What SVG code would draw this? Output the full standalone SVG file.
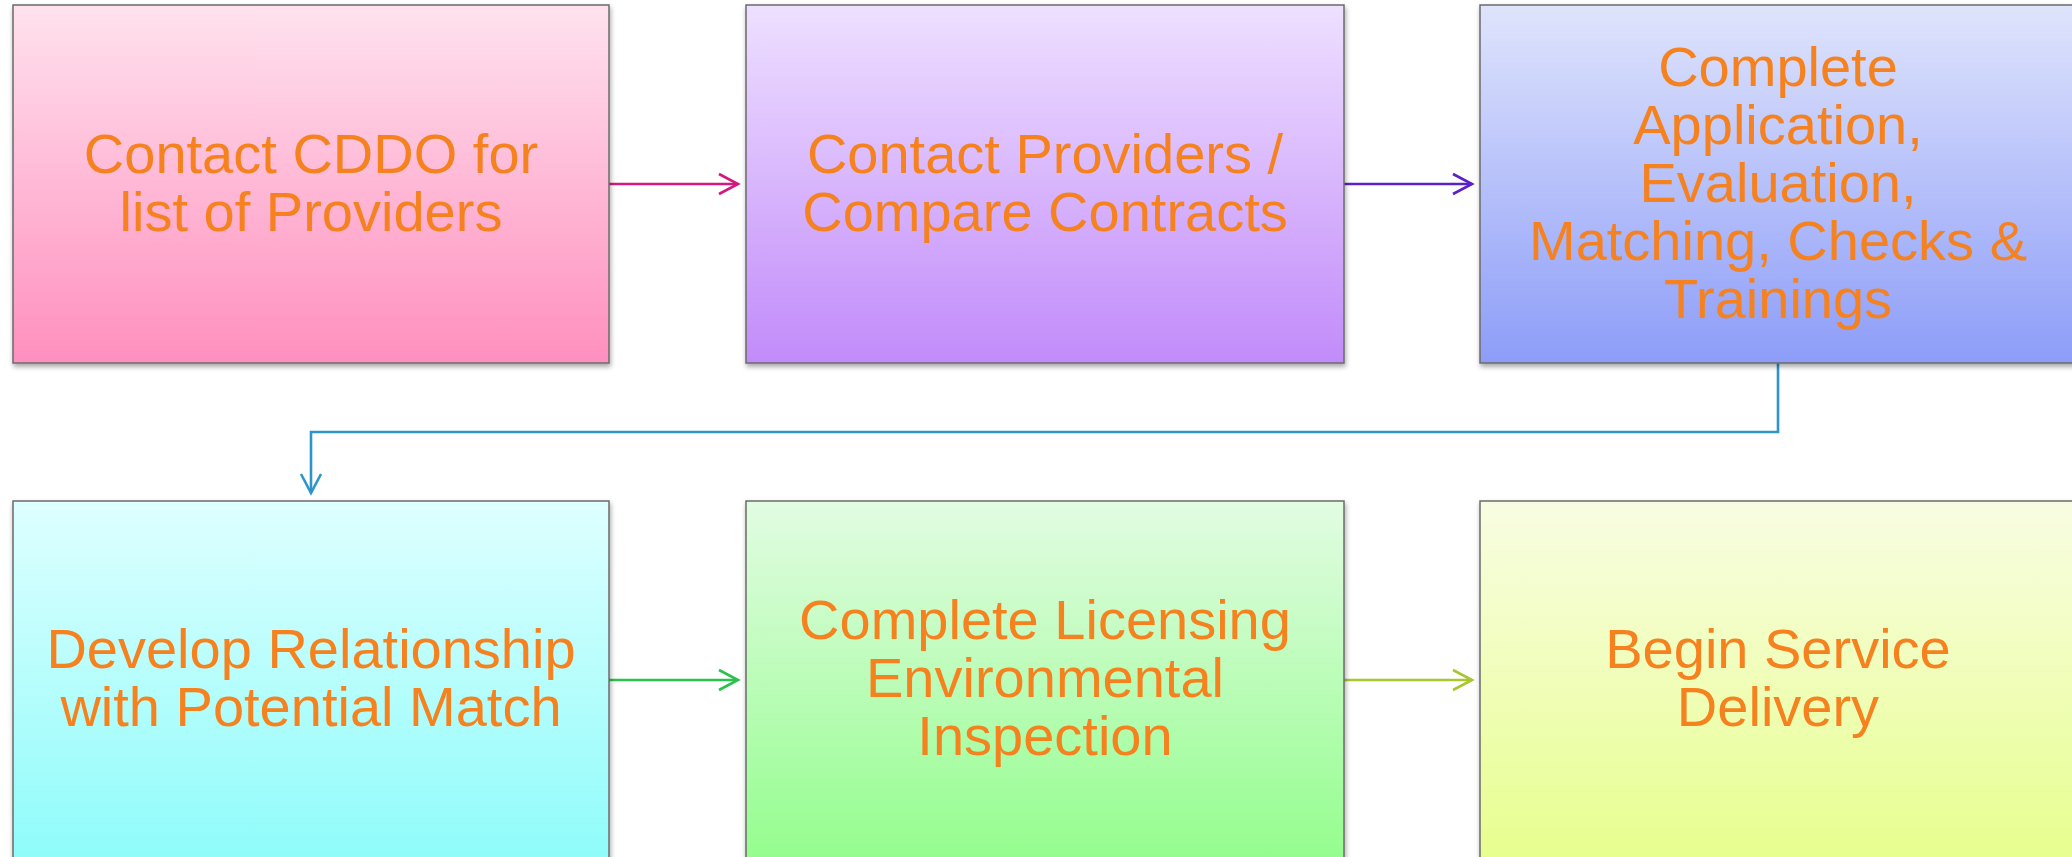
<svg xmlns="http://www.w3.org/2000/svg" width="2072" height="857" viewBox="0 0 2072 857">
<style>
.box{stroke:#6b6b6b;stroke-width:1.5;filter:url(#sh)}
.lbl{font-family:"Liberation Sans",Arial,sans-serif;font-size:56px;fill:#F5821F;text-anchor:middle}
.con{fill:none;stroke-width:2.6}
</style>
<defs>
<filter id="sh" x="-5%" y="-5%" width="110%" height="115%">
<feDropShadow dx="1" dy="3" stdDeviation="2.5" flood-color="#000" flood-opacity="0.35"/>
</filter>
<linearGradient id="g1" x1="0" y1="0" x2="0" y2="1"><stop offset="0" stop-color="#FFE2EE"/><stop offset="1" stop-color="#FF8FBE"/></linearGradient>
<linearGradient id="g2" x1="0" y1="0" x2="0" y2="1"><stop offset="0" stop-color="#EEE0FF"/><stop offset="1" stop-color="#C28BFA"/></linearGradient>
<linearGradient id="g3" x1="0" y1="0" x2="0" y2="1"><stop offset="0" stop-color="#DFE4FC"/><stop offset="1" stop-color="#8D9DF8"/></linearGradient>
<linearGradient id="g4" x1="0" y1="0" x2="0" y2="1"><stop offset="0" stop-color="#DEFFFF"/><stop offset="1" stop-color="#8EFCFA"/></linearGradient>
<linearGradient id="g5" x1="0" y1="0" x2="0" y2="1"><stop offset="0" stop-color="#E2FCE2"/><stop offset="1" stop-color="#94FD8E"/></linearGradient>
<linearGradient id="g6" x1="0" y1="0" x2="0" y2="1"><stop offset="0" stop-color="#F8FDE2"/><stop offset="1" stop-color="#E7FE8E"/></linearGradient>
<marker id="m1" markerUnits="userSpaceOnUse" markerWidth="24" markerHeight="26" refX="20" refY="12" orient="auto"><path d="M1,2 L20,12 L1,22" fill="none" stroke="#D2197F" stroke-width="2.6"/></marker>
<marker id="m2" markerUnits="userSpaceOnUse" markerWidth="24" markerHeight="26" refX="20" refY="12" orient="auto"><path d="M1,2 L20,12 L1,22" fill="none" stroke="#5B20C8" stroke-width="2.6"/></marker>
<marker id="m3" markerUnits="userSpaceOnUse" markerWidth="24" markerHeight="26" refX="20" refY="12" orient="auto"><path d="M1,2 L20,12 L1,22" fill="none" stroke="#2E94CC" stroke-width="2.6"/></marker>
<marker id="m4" markerUnits="userSpaceOnUse" markerWidth="24" markerHeight="26" refX="20" refY="12" orient="auto"><path d="M1,2 L20,12 L1,22" fill="none" stroke="#2BC24C" stroke-width="2.6"/></marker>
<marker id="m5" markerUnits="userSpaceOnUse" markerWidth="24" markerHeight="26" refX="20" refY="12" orient="auto"><path d="M1,2 L20,12 L1,22" fill="none" stroke="#A8C62E" stroke-width="2.6"/></marker>
</defs>
<rect width="2072" height="857" fill="#FFFFFF"/>
<g id="connectors">
<path class="con" stroke="#D2197F" d="M609,184 H738" marker-end="url(#m1)"/>
<path class="con" stroke="#5B20C8" d="M1344,184 H1472" marker-end="url(#m2)"/>
<path class="con" stroke="#2E94CC" d="M1778,363 V432 H311 V493" marker-end="url(#m3)"/>
<path class="con" stroke="#2BC24C" d="M609,680 H738" marker-end="url(#m4)"/>
<path class="con" stroke="#A8C62E" d="M1344,680 H1472" marker-end="url(#m5)"/>
</g>
<g id="node1">
<rect class="box" x="13" y="5" width="596" height="358" fill="url(#g1)"/>
<text class="lbl" x="311" y="173">Contact CDDO for</text>
<text class="lbl" x="311" y="231">list of Providers</text>
</g>
<g id="node2">
<rect class="box" x="746" y="5" width="598" height="358" fill="url(#g2)"/>
<text class="lbl" x="1045" y="173">Contact Providers /</text>
<text class="lbl" x="1045" y="231">Compare Contracts</text>
</g>
<g id="node3">
<rect class="box" x="1480" y="5" width="597" height="358" fill="url(#g3)"/>
<text class="lbl" x="1778" y="86">Complete</text>
<text class="lbl" x="1778" y="144">Application,</text>
<text class="lbl" x="1778" y="202">Evaluation,</text>
<text class="lbl" x="1778" y="260">Matching, Checks &amp;</text>
<text class="lbl" x="1778" y="318">Trainings</text>
</g>
<g id="node4">
<rect class="box" x="13" y="501" width="596" height="360" fill="url(#g4)"/>
<text class="lbl" x="311" y="668">Develop Relationship</text>
<text class="lbl" x="311" y="726">with Potential Match</text>
</g>
<g id="node5">
<rect class="box" x="746" y="501" width="598" height="360" fill="url(#g5)"/>
<text class="lbl" x="1045" y="639">Complete Licensing</text>
<text class="lbl" x="1045" y="697">Environmental</text>
<text class="lbl" x="1045" y="755">Inspection</text>
</g>
<g id="node6">
<rect class="box" x="1480" y="501" width="597" height="360" fill="url(#g6)"/>
<text class="lbl" x="1778" y="668">Begin Service</text>
<text class="lbl" x="1778" y="726">Delivery</text>
</g>
</svg>
